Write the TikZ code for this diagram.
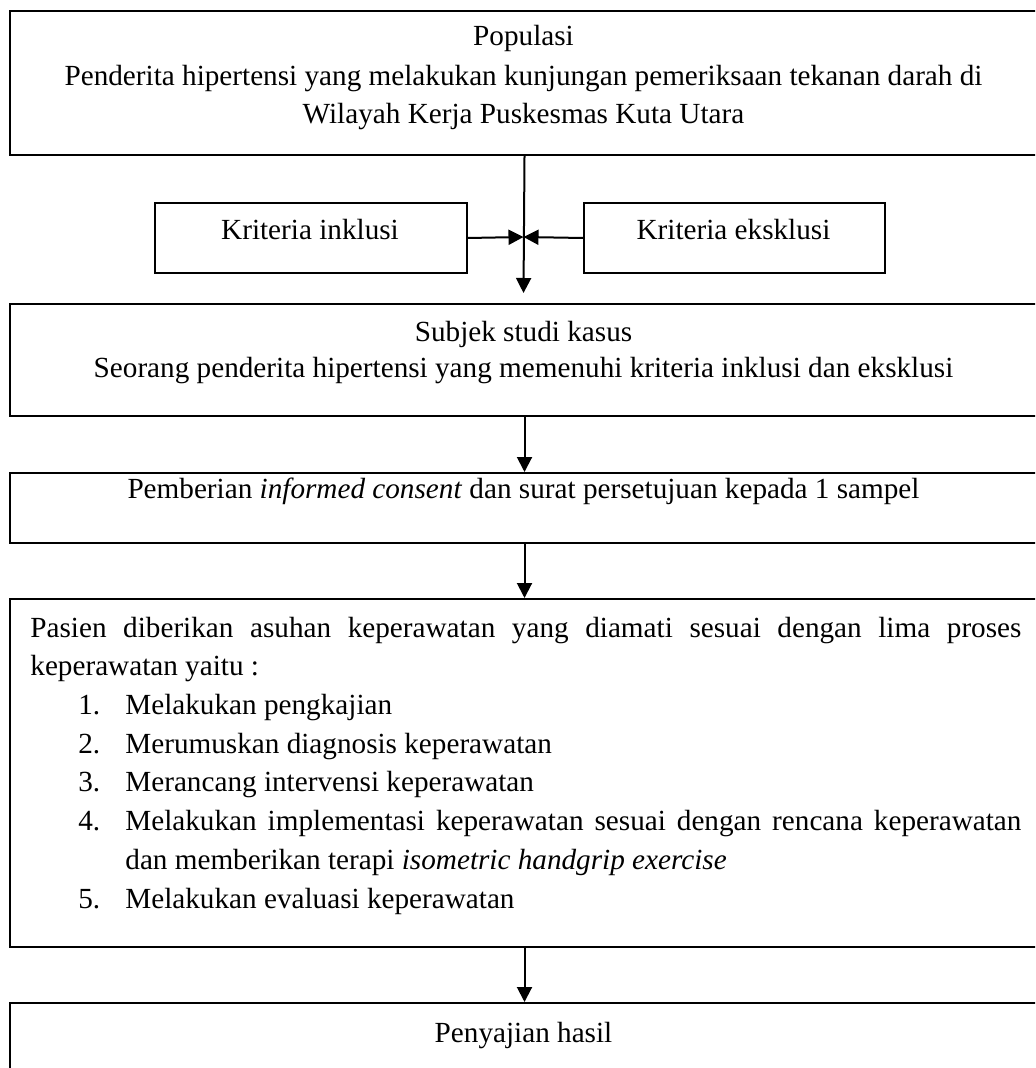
\documentclass[tikz,border=0pt]{standalone}
\usepackage{fontspec}
\setmainfont{Liberation Serif}
\usetikzlibrary{arrows.meta}
\tikzset{
  box/.style={draw, line width=1pt, rectangle, anchor=north west, inner sep=0pt},
  txt/.style={anchor=base, inner sep=0pt, font=\fontsize{14.6}{19.36}\selectfont},
  arr/.style={line width=1pt, -{Triangle[length=7.5pt,width=7.5pt]}}
}
\begin{document}
\begin{tikzpicture}[x=0.5pt,y=-0.5pt]
\useasboundingbox (0,0) rectangle (1035,1068);
\clip (0,0) rectangle (1035,1068);
% boxes
\node[box, minimum width=514.5pt, minimum height=72pt] (b1) at (9,10) {};
\node[box, minimum width=156pt, minimum height=35pt] (inkl) at (154,202) {};
\node[box, minimum width=150.5pt, minimum height=35pt] (eks) at (583,202) {};
\node[box, minimum width=514.5pt, minimum height=56pt] (b2) at (9,303) {};
\node[box, minimum width=514.5pt, minimum height=35pt] (b3) at (9,472) {};
\node[box, minimum width=514.5pt, minimum height=174pt] (b4) at (9,598) {};
\node[box, minimum width=514.5pt, minimum height=60pt] (b5) at (9,1002) {};
% texts
\node[txt] (t1a) at (523.5,46) {Populasi};
\node[txt] (t1b) at (523.5,86) {Penderita hipertensi yang melakukan kunjungan pemeriksaan tekanan darah di};
\node[txt] (t1c) at (523.5,124) {Wilayah Kerja Puskesmas Kuta Utara};
\node[txt] (ti) at (310,240) {Kriteria inklusi};
\node[txt] (te) at (733.5,240) {Kriteria eksklusi};
\node[txt] (t2a) at (523.5,342) {Subjek studi kasus};
\node[txt] (t2b) at (523.5,378) {Seorang penderita hipertensi yang memenuhi kriteria inklusi dan eksklusi};
\node[txt] (t3) at (523.5,498) {Pemberian \textit{informed consent} dan surat persetujuan kepada 1 sampel};
\node[txt, anchor=base west] (t4) at (30,637) {\begin{minipage}[t]{495.5pt}
\fontsize{14.6}{19.36}\selectfont
\noindent Pasien diberikan asuhan keperawatan yang diamati sesuai dengan lima proses\linebreak keperawatan yaitu :\par
\noindent\hspace*{24pt}\makebox[23.5pt][l]{1.}Melakukan pengkajian\par
\noindent\hspace*{24pt}\makebox[23.5pt][l]{2.}Merumuskan diagnosis keperawatan\par
\noindent\hspace*{24pt}\makebox[23.5pt][l]{3.}Merancang intervensi keperawatan\par
\hangindent=47.5pt\hangafter=1
\noindent\hspace*{24pt}\makebox[23.5pt][l]{4.}Melakukan implementasi keperawatan sesuai dengan rencana keperawatan\linebreak dan memberikan terapi \textit{isometric handgrip exercise}\par
\noindent\hspace*{24pt}\makebox[23.5pt][l]{5.}Melakukan evaluasi keperawatan\par
\end{minipage}};
\node[txt] (t5) at (523.5,1042) {Penyajian hasil};
% connectors
\coordinate (meet) at (523.5,237);
\coordinate (tip1) at (523.5,293);
\draw[arr] (b1.south) -- (tip1);
\draw[arr] (inkl.east) -- (meet);
\draw[arr] (eks.west) -- (meet);
\draw[arr] (b2.south) -- (b3.north);
\draw[arr] (b3.south) -- (b4.north);
\draw[arr] (b4.south) -- (b5.north);
\end{tikzpicture}
\end{document}
